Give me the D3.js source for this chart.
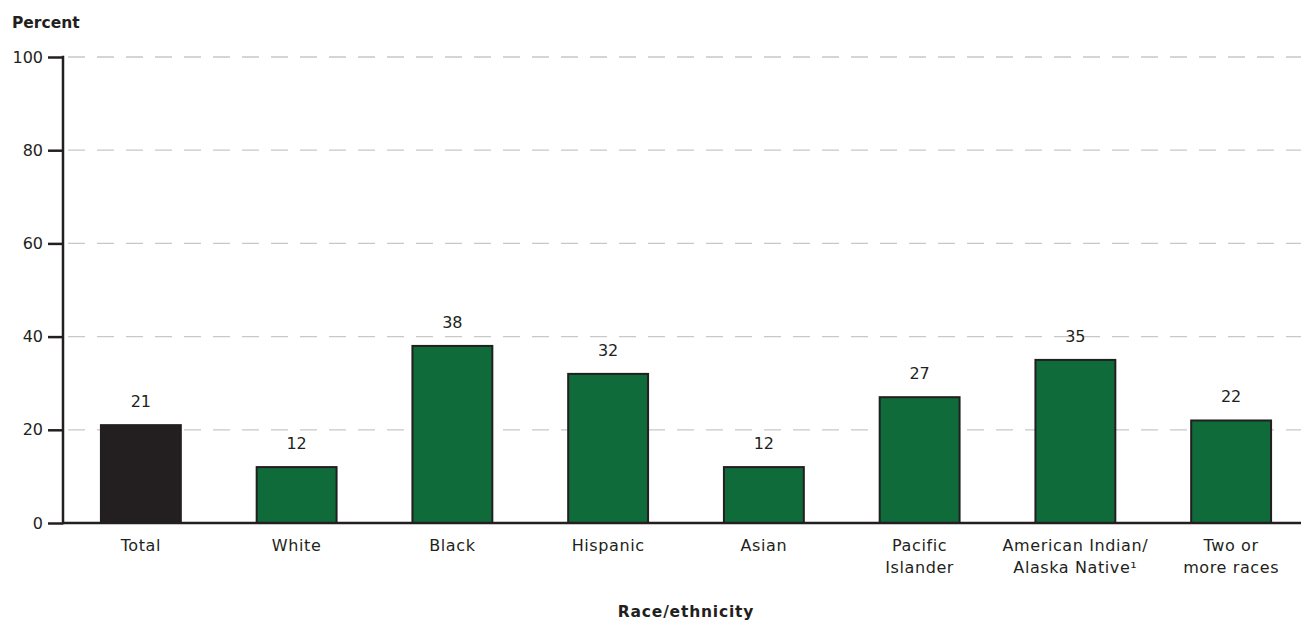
<!DOCTYPE html>
<html><head><meta charset="utf-8">
<script src="https://cdn.jsdelivr.net/npm/d3@7"></script>
<style>
body{margin:0;background:#fff;}
text{font-family:"DejaVu Sans",sans-serif;fill:#231f20;}
</style></head>
<body><svg id="c" width="1301" height="623"></svg>
<script>
const categories = ["Total","White","Black","Hispanic","Asian","Pacific Islander","American Indian/Alaska Native","Two or more races"];
const labelLines = [["Total"],["White"],["Black"],["Hispanic"],["Asian"],["Pacific","Islander"],["American Indian/","Alaska Native\u00B9"],["Two or","more races"]];
const values = [21,12,38,32,12,27,35,22];
const yTicks = [0,20,40,60,80,100];

const svg = d3.select("#c");
const pL = 63, pR = 1309, pT = 57, pB = 523;
const x = d3.scaleBand().domain(categories).range([pL,pR]).paddingInner(0.487).paddingOuter(0.2435);
const y = d3.scaleLinear().domain([0,100]).range([pB,pT]);

// gridlines
svg.append("g").selectAll("line").data(yTicks.filter(d=>d>0)).join("line")
  .attr("x1",pL).attr("x2",1301).attr("y1",d=>y(d)).attr("y2",d=>y(d))
  .attr("stroke","#c8c8c8").attr("stroke-width",1.3).attr("stroke-dasharray","17,12").attr("stroke-dashoffset",-5);

// bars
svg.append("g").selectAll("rect").data(values).join("rect")
  .attr("x",(d,i)=>x(categories[i])).attr("width",x.bandwidth())
  .attr("y",d=>y(d)).attr("height",d=>y(0)-y(d))
  .attr("fill",(d,i)=>i===0?"#231f20":"#0f6b3a")
  .attr("stroke","#231f20").attr("stroke-width",2);

// value labels
svg.append("g").selectAll("text").data(values).join("text")
  .attr("x",(d,i)=>x(categories[i])+x.bandwidth()/2).attr("y",d=>y(d)-18)
  .attr("text-anchor","middle").attr("font-size",16).text(d=>d);

// y axis
const ya = svg.append("g").attr("transform",`translate(${pL},0)`)
  .call(d3.axisLeft(y).tickValues(yTicks).tickSize(15).tickPadding(5));
ya.select(".domain").remove();
ya.selectAll(".tick line").attr("stroke","#231f20").attr("stroke-width",2.5);
ya.selectAll(".tick text").attr("font-size",16).attr("fill","#231f20").style("font-family",'"DejaVu Sans",sans-serif');
svg.append("line").attr("x1",pL).attr("x2",pL).attr("y1",pT-1.2).attr("y2",pB+1.2)
  .attr("stroke","#231f20").attr("stroke-width",2.5);
// baseline
svg.append("line").attr("x1",pL).attr("x2",1301).attr("y1",pB).attr("y2",pB)
  .attr("stroke","#231f20").attr("stroke-width",2.5);

// category labels
const cl = svg.append("g").selectAll("text").data(labelLines).join("text")
  .attr("x",(d,i)=>x(categories[i])+x.bandwidth()/2).attr("y",551)
  .attr("text-anchor","middle").attr("font-size",16).attr("letter-spacing",0.6);
cl.selectAll("tspan").data(d=>d).join("tspan")
  .attr("x",function(){return this.parentNode.getAttribute("x");})
  .attr("dy",(d,i)=>i===0?0:22).text(d=>d);

// titles
svg.append("text").attr("x",12).attr("y",28).attr("font-size",15.5).attr("font-weight","bold").text("Percent");
svg.append("text").attr("x",686).attr("y",617).attr("text-anchor","middle").attr("font-size",15.5).attr("letter-spacing",0.8).attr("font-weight","bold").text("Race/ethnicity");
</script></body></html>
